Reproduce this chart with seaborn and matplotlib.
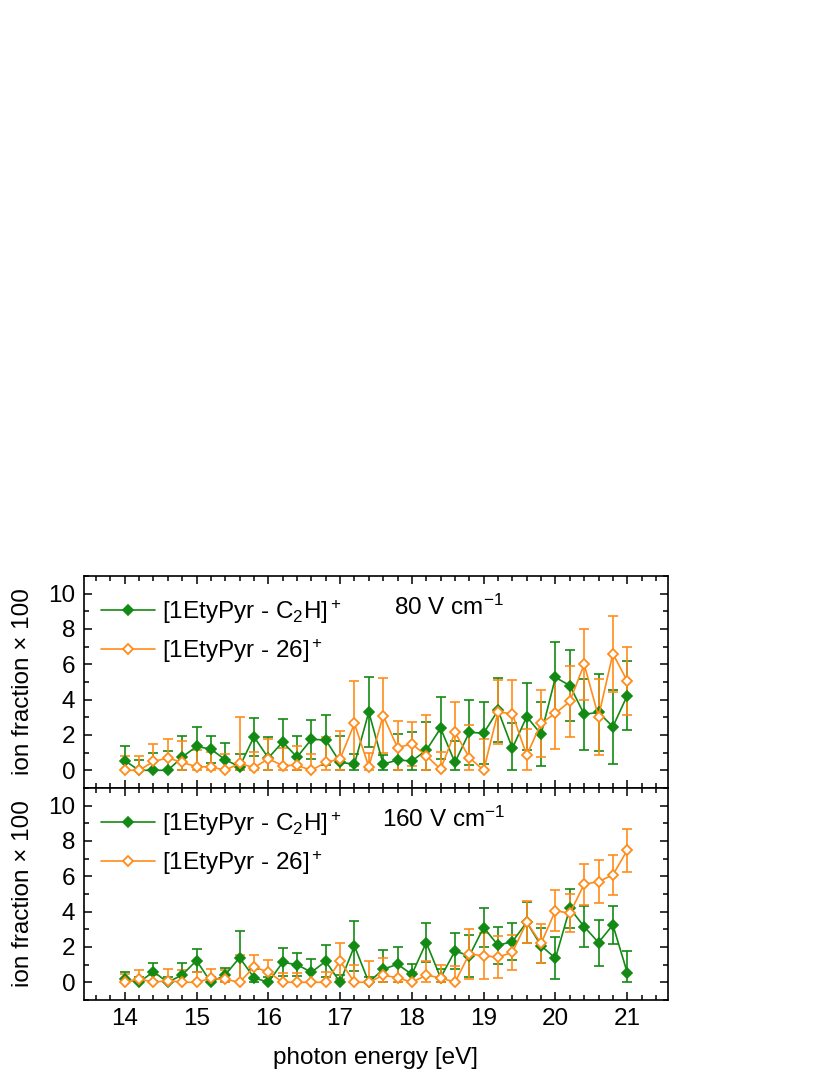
import numpy as np
import seaborn as sns
import matplotlib.pyplot as plt
from matplotlib.ticker import MultipleLocator

# photon energies (eV)
energy = [14.0, 14.2, 14.4, 14.6, 14.8, 15.0, 15.2, 15.4, 15.6, 15.8,
          16.0, 16.2, 16.4, 16.6, 16.8, 17.0, 17.2, 17.4, 17.6, 17.8,
          18.0, 18.2, 18.4, 18.6, 18.8, 19.0, 19.2, 19.4, 19.6, 19.8,
          20.0, 20.2, 20.4, 20.6, 20.8, 21.0]

# 80 V/cm
c2h_80 = [0.55, 0.0, 0.0, 0.0, 0.75, 1.35, 1.2, 0.6, 0.2, 1.9,
          0.7, 1.6, 0.75, 1.75, 1.72, 0.45, 0.35, 3.3, 0.35, 0.58,
          0.53, 1.13, 2.38, 0.45, 2.15, 2.1, 3.4, 1.25, 3.04, 2.04,
          5.26, 4.8, 3.17, 3.28, 2.47, 4.23]
c2h_80_err = [0.85, 0.6, 1.0, 1.1, 1.2, 1.1, 0.76, 0.97, 0.7, 1.08,
              1.2, 1.3, 1.2, 1.1, 1.4, 1.5, 0.6, 2.0, 0.5, 1.5,
              1.65, 1.6, 1.75, 1.2, 1.85, 1.75, 1.8, 1.4, 1.9, 1.8,
              2.0, 2.0, 2.0, 2.2, 2.1, 1.95]
m26_80 = [0.0, 0.0, 0.5, 0.7, 0.45, 0.2, 0.2, 0.0, 0.4, 0.15,
          0.65, 0.27, 0.28, 0.0, 0.45, 0.65, 2.65, 0.2, 3.1, 1.28,
          1.5, 0.83, 0.06, 2.15, 0.72, 0.0, 3.3, 3.2, 0.85, 2.66,
          3.23, 3.9, 6.0, 3.04, 6.6, 5.06]
m26_80_err = [0.83, 0.83, 1.0, 1.07, 1.2, 0.95, 0.85, 0.9, 2.64, 0.9,
              1.15, 1.0, 1.1, 0.9, 1.45, 1.6, 2.4, 0.8, 2.1, 1.5,
              1.25, 2.3, 1.0, 1.7, 1.85, 1.8, 1.8, 1.9, 1.5, 1.9,
              2.0, 2.0, 2.0, 2.15, 2.14, 1.94]

# 160 V/cm
c2h_160 = [0.19, 0.0, 0.6, 0.0, 0.42, 1.23, 0.0, 0.42, 1.4, 0.26,
           0.0, 1.13, 1.0, 0.57, 1.19, 0.0, 2.06, 0.0, 0.74, 1.02,
           0.45, 2.25, 0.26, 1.77, 1.5, 3.1, 2.1, 2.3, 3.4, 2.07,
           1.36, 4.19, 3.15, 2.25, 3.25, 0.55]
c2h_160_err = [0.4, 0.3, 0.5, 0.3, 0.65, 0.65, 0.3, 0.4, 1.5, 0.5,
               0.3, 0.8, 0.65, 0.77, 0.9, 0.4, 1.4, 0.3, 1.1, 1.0,
               0.6, 1.1, 0.5, 1.0, 1.2, 1.1, 1.05, 1.05, 1.17, 1.0,
               1.2, 1.1, 1.17, 1.3, 1.07, 1.2]
m26_160 = [0.0, 0.2, 0.0, 0.1, 0.0, 0.0, 0.22, 0.17, 0.0, 0.87,
           0.58, 0.0, 0.0, 0.0, 0.0, 1.2, 0.0, 0.0, 0.4, 0.26,
           0.0, 0.4, 0.26, 0.0, 1.6, 1.5, 1.42, 1.7, 3.4, 2.2,
           4.06, 3.9, 5.55, 5.7, 6.08, 7.47]
m26_160_err = [0.47, 0.5, 0.4, 0.67, 0.7, 0.6, 0.55, 0.5, 1.57, 0.7,
               0.7, 0.5, 0.5, 0.6, 0.6, 1.0, 1.0, 1.2, 1.0, 0.8,
               0.6, 0.8, 0.7, 0.9, 1.4, 1.3, 1.2, 1.0, 1.2, 1.08,
               1.17, 1.08, 1.15, 1.22, 1.12, 1.21]

fields = ["80 V cm$^{-1}$", "160 V cm$^{-1}$"]
panels = [(c2h_80, c2h_80_err, m26_80, m26_80_err),
          (c2h_160, c2h_160_err, m26_160, m26_160_err)]

green = "#138a13"
orange = "#ff8c1a"
fs = 17.5

sns.set_style("ticks")
plt.rcParams['font.family'] = ['Liberation Sans', 'DejaVu Sans']
plt.rcParams['mathtext.fontset'] = 'custom'
plt.rcParams['mathtext.rm'] = 'Liberation Sans'
plt.rcParams['mathtext.it'] = 'Liberation Sans'
plt.rcParams['mathtext.default'] = 'regular'
for key in ['text.color', 'axes.labelcolor', 'xtick.color', 'ytick.color', 'axes.edgecolor']:
    plt.rcParams[key] = 'black'

fig, axes = plt.subplots(2, 1, figsize=(8.3, 10.75), dpi=100, sharex=True)
fig.subplots_adjust(left=0.101, right=0.805, top=0.4642, bottom=0.0698, hspace=0)

x = np.array(energy)
label_x = [17.75, 17.58]
for i, (ax, (g, ge, o, oe)) in enumerate(zip(axes, panels)):
    g = np.array(g); ge = np.array(ge)
    o = np.array(o); oe = np.array(oe)
    # error bars clipped at zero
    ax.errorbar(x, g, yerr=[np.minimum(ge, g), ge], fmt='none', ecolor=green,
                elinewidth=1.2, capsize=3.5, capthick=1.2, zorder=2)
    ax.errorbar(x, o, yerr=[np.minimum(oe, o), oe], fmt='none', ecolor=orange,
                elinewidth=1.2, capsize=3.5, capthick=1.2, zorder=2)
    sns.lineplot(x=x, y=g, ax=ax, color=green, marker='D', markersize=4.6,
                 markeredgecolor=green, markeredgewidth=1.2, linewidth=1.2,
                 label="[1EtyPyr - C$_2$H]$^+$", zorder=3)
    sns.lineplot(x=x, y=o, ax=ax, color=orange, marker='D', markersize=4.6,
                 markerfacecolor='white', markeredgecolor=orange, markeredgewidth=1.3,
                 linewidth=1.2, label="[1EtyPyr - 26]$^+$", zorder=4)

    ax.set_xlim(13.43, 21.57)
    ax.set_ylim(-1, 11)
    ax.yaxis.set_major_locator(MultipleLocator(2))
    ax.yaxis.set_minor_locator(MultipleLocator(1))
    ax.xaxis.set_major_locator(MultipleLocator(1))
    ax.xaxis.set_minor_locator(MultipleLocator(0.2))
    ax.tick_params(which='both', direction='in', top=True, right=True,
                   width=1.1, labelsize=fs, colors='black')
    ax.tick_params(which='major', length=6, pad=6)
    ax.tick_params(which='minor', length=3.5)
    for sp in ax.spines.values():
        sp.set_linewidth(1.2)
        sp.set_color('black')
    ax.set_ylabel("ion fraction × 100", fontsize=fs, labelpad=10)
    ax.legend(loc='upper left', frameon=False, fontsize=fs, handlelength=2.2,
              handletextpad=0.3, labelspacing=0.45, bbox_to_anchor=(-0.008, 1.0),
              borderaxespad=0.5)
    ax.text(label_x[i], 9.2, fields[i], fontsize=fs, va='center', ha='left')

axes[1].set_xlabel("photon energy [eV]", fontsize=fs, labelpad=12)

fig.savefig("out.png", dpi=100)
